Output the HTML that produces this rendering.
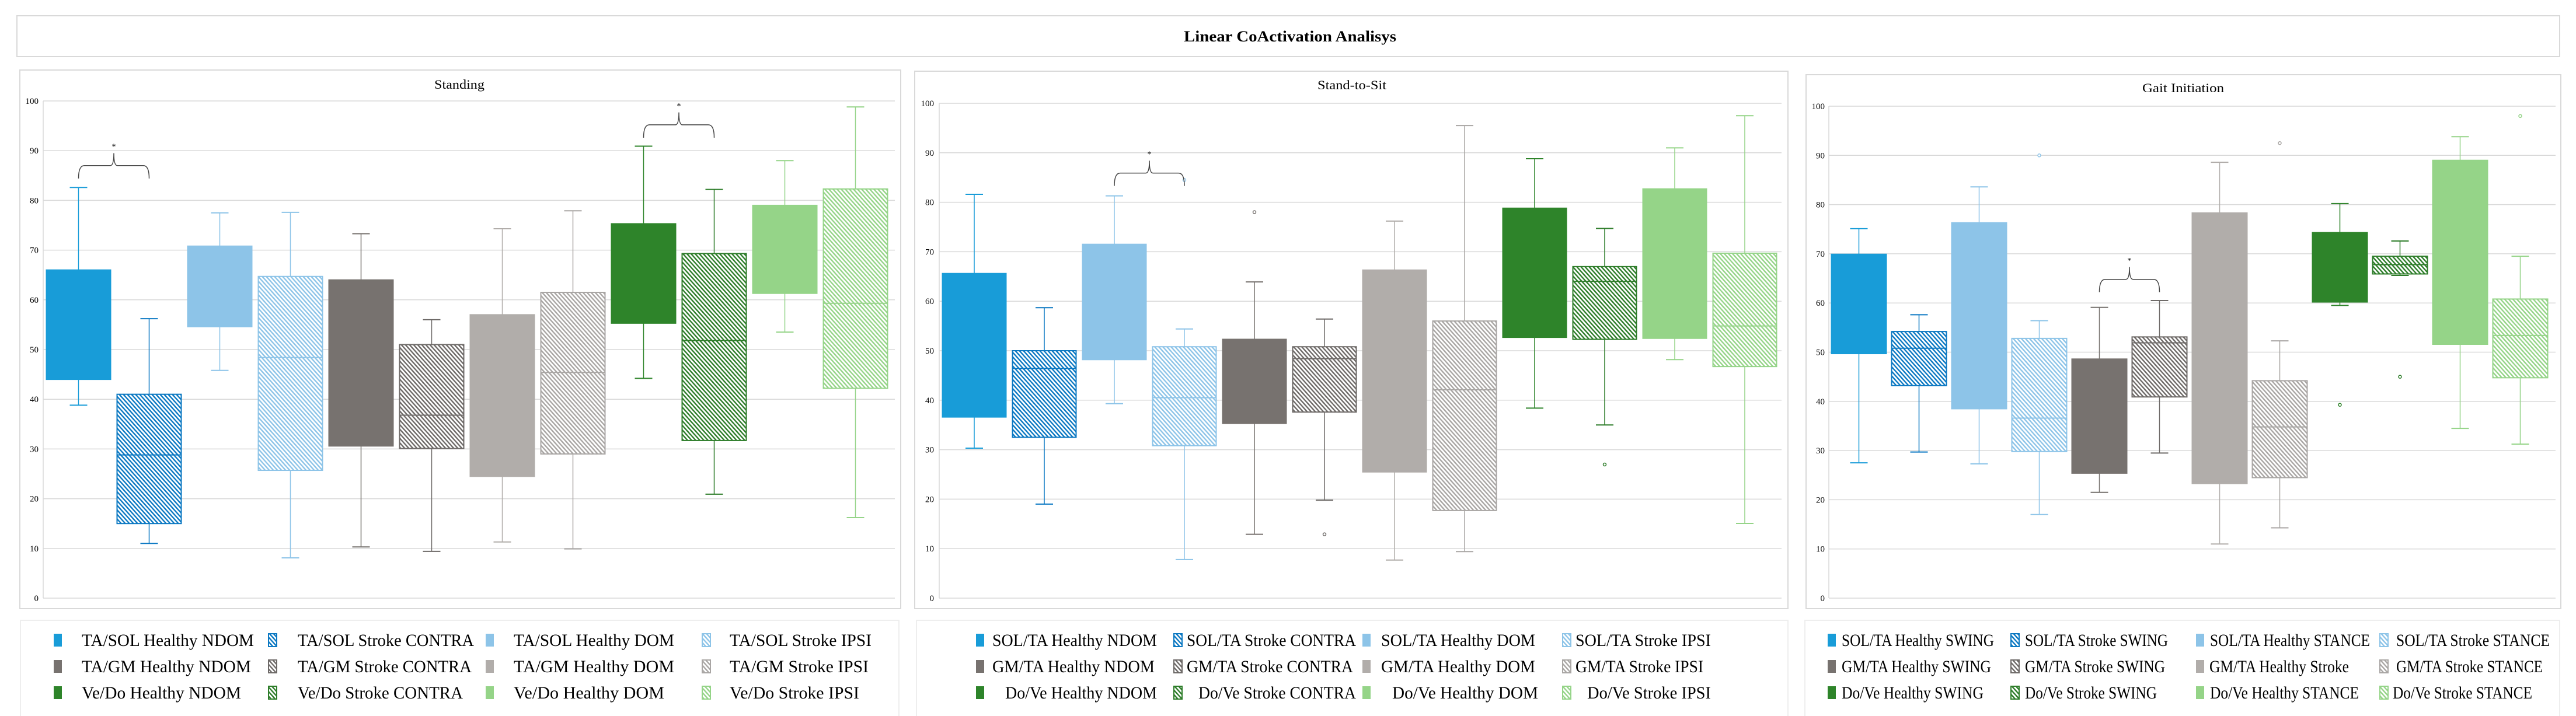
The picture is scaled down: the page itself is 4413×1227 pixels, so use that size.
<!DOCTYPE html>
<html><head><meta charset="utf-8"><style>
html,body{margin:0;padding:0;background:#fff;}
svg{display:block;}
</style></head><body>
<svg id="chart" xmlns="http://www.w3.org/2000/svg" width="4413" height="1227" viewBox="0 0 4413 1227" font-family="'Liberation Serif', serif">
<defs id="defs"></defs>
<rect x="29" y="27" width="4356" height="70" fill="#fff" stroke="#d9d9d9" stroke-width="2"/>
<text x="2210" y="71" text-anchor="middle" font-size="26" font-weight="bold" textLength="364" lengthAdjust="spacingAndGlyphs">Linear CoActivation Analisys</text>
<g id="root"></g>
</svg>
<script>
// ---- data (Standing) ----
const p1Labels=["TA/SOL Healthy NDOM","TA/SOL Stroke CONTRA","TA/SOL Healthy DOM","TA/SOL Stroke  IPSI","TA/GM Healthy NDOM","TA/GM Stroke CONTRA","TA/GM Healthy  DOM","TA/GM Stroke  IPSI","Ve/Do Healthy NDOM","Ve/Do Stroke CONTRA","Ve/Do Healthy  DOM","Ve/Do Stroke  IPSI"];
const p1Min=[38.8,11,45.8,8.1,10.3,9.4,11.3,9.9,44.2,20.9,53.5,16.2];
const p1Q1=[44,15,54.6,25.7,30.6,30.1,24.5,29,55.3,31.7,61.3,42.2];
const p1Med=[48.3,28.8,54.8,48.4,30.8,36.8,24.7,45.4,55.5,51.8,61.5,59.3];
const p1Q3=[66,41,70.8,64.7,64,51,57,61.5,75.3,69.3,79,82.3];
const p1Max=[82.6,56.2,77.5,77.6,73.3,56,74.3,77.9,90.9,82.2,88,98.8];
const p1Out=[[],[],[],[],[],[],[],[],[],[],[],[]];
const p1Brackets=[[0,1,87],[8,9,95.2]];
// ---- data (Stand-to-Sit) ----
const p2Labels=["SOL/TA Healthy NDOM","SOL/TA Stroke CONTRA","SOL/TA Healthy DOM","SOL/TA Stroke  IPSI","GM/TA Healthy NDOM","GM/TA Stroke CONTRA","GM/TA Healthy  DOM","GM/TA Stroke IPSI","Do/Ve Healthy NDOM","Do/Ve Stroke CONTRA","Do/Ve Healthy  DOM","Do/Ve Stroke  IPSI"];
const p2Min=[30.3,19,39.3,7.8,12.9,19.8,7.7,9.4,38.4,35,48.2,15.1];
const p2Q1=[36.6,32.5,48.2,30.8,35.3,37.6,25.5,17.7,52.7,52.3,52.5,46.8];
const p2Med=[47.5,46.4,48.4,40.5,35.5,48.4,25.7,42.1,52.9,64,52.7,55];
const p2Q3=[65.6,50,71.5,50.8,52.3,50.8,66.3,56,78.8,67,82.7,69.7];
const p2Max=[81.6,58.7,81.3,54.4,63.9,56.4,76.2,95.5,88.8,74.7,91,97.5];
const p2Out=[[],[],[],[84.5],[78],[12.9],[],[],[],[27],[],[]];
const p2Brackets=[[2,3,85.9]];
// ---- data (Gait Initiation) ----
const p3Labels=["SOL/TA Healthy SWING","SOL/TA Stroke SWING","SOL/TA Healthy STANCE","SOL/TA Stroke  STANCE","GM/TA Healthy SWING","GM/TA Stroke SWING","GM/TA Healthy Stroke","GM/TA Stroke STANCE","Do/Ve Healthy SWING","Do/Ve Stroke SWING","Do/Ve Healthy STANCE","Do/Ve Stroke STANCE"];
const p3Min=[27.5,29.7,27.3,17,21.5,29.5,11,14.3,59.5,65.6,34.5,31.3];
const p3Q1=[49.7,43.2,38.5,29.8,25.4,40.9,23.3,24.5,60.2,65.9,51.6,44.8];
const p3Med=[54,50.8,38.7,36.6,25.6,51.9,23.5,34.8,60.4,67.8,51.8,53.4];
const p3Q3=[69.9,54.2,76.3,52.8,48.6,53.1,78.3,44.2,74.3,69.5,89,60.8];
const p3Max=[75.1,57.6,83.6,56.4,59.1,60.5,88.6,52.3,80.2,72.6,93.8,69.5];
const p3Out=[[],[],[],[90],[],[],[],[92.5],[39.3],[45],[],[98]];
const p3Brackets=[[4,5,64.8]];
const yTicks=[0,10,20,30,40,50,60,70,80,90,100];

const NS="http://www.w3.org/2000/svg";
const root=document.getElementById('root');
const defs=document.getElementById('defs');
const fills=["#189CD8","#0B78C2","#8DC4E8","#8DC4E8","#77726F","#6E6A68","#B1ADAA","#A9A6A4","#2E842A","#2E7D2A","#95D488","#95D488"];
const hatched=[false,true,false,true,false,true,false,true,false,true,false,true];
function mk(tag,attrs,parent){const e=document.createElementNS(NS,tag);for(const k in attrs)e.setAttribute(k,attrs[k]);(parent||root).appendChild(e);return e;}
// hatch patterns
fills.forEach((c,i)=>{if(!hatched[i])return;
  const p=mk('pattern',{id:'h'+i,patternUnits:'userSpaceOnUse',width:5.2,height:10,patternTransform:'rotate(-42)'},defs);
  mk('rect',{x:0,y:0,width:5.2,height:10,fill:'#fff'},p);
  mk('rect',{x:0,y:0,width:2.4,height:10,fill:c},p);
});
function paint(i){return hatched[i]?'url(#h'+i+')':fills[i];}

const panels=[
 {name:'standing',title:'Standing',tx:787,ty:152,tw:86,frame:[34,120,1509,923],left:74,right:1533,step:121,bw:110,yT:173,y0:1025,labX:66,
  min:p1Min,q1:p1Q1,med:p1Med,q3:p1Q3,max:p1Max,out:p1Out,br:p1Brackets,labels:p1Labels,
  leg:{box:[35,1063,1505,170],mx:[92,460,832,1203],tx:[[140,435,510,812,880,1155,1250,1493],[140,430,510,808,880,1155,1250,1488],[140,413,510,793,880,1138,1250,1472]]}},
 {name:'stand-to-sit',title:'Stand-to-Sit',tx:2316,ty:153,tw:118,frame:[1567,122,1496,921],left:1609,right:3052,step:120,bw:109,yT:177,y0:1025,labX:1600,
  min:p2Min,q1:p2Q1,med:p2Med,q3:p2Q3,max:p2Max,out:p2Out,br:p2Brackets,labels:p2Labels,
  leg:{box:[1570,1063,1493,170],mx:[1672,2011,2334,2677],tx:[[1700,1982,2033,2323,2366,2630,2699,2931],[1700,1978,2033,2318,2366,2630,2699,2918],[1722,1982,2053,2323,2385,2635,2719,2931]]}},
 {name:'gait-initiation',title:'Gait Initiation',tx:3740,ty:158,tw:140,frame:[3094,128,1293,915],left:3133,right:4378,step:103,bw:94,yT:182,y0:1025,labX:3126,
  min:p3Min,q1:p3Q1,med:p3Med,q3:p3Q3,max:p3Max,out:p3Out,br:p3Brackets,labels:p3Labels,
  leg:{box:[3092,1063,1293,170],mx:[3131,3445,3762,4077],tx:[[3155,3416,3469,3714,3786,4060,4105,4368],[3155,3411,3469,3709,3785,4024,4105,4356],[3155,3398,3469,3695,3786,4041,4099,4338]]}}
];

panels.forEach(P=>{
  const g=mk('g',{});
  
  
  const fr=mk('rect',{x:P.frame[0],y:P.frame[1],width:P.frame[2],height:P.frame[3],fill:'#fff',stroke:'#d9d9d9','stroke-width':2},g);
  
  
  const t=mk('text',{x:P.tx,y:P.ty,'text-anchor':'middle','font-size':22,textLength:P.tw,lengthAdjust:'spacingAndGlyphs'},g);
  t.textContent=P.title;
  
  
  const Y=v=>P.y0-(v/100)*(P.y0-P.yT);
  const X=i=>P.left+P.step*(i+0.5);
  yTicks.forEach(v=>{
    const l=mk('line',{x1:P.left,x2:P.right,y1:Y(v),y2:Y(v),stroke:'#d9d9d9','stroke-width':1.5},g);
    
    
    const tl=mk('text',{x:P.labX,y:Y(v)+5,'text-anchor':'end','font-size':15},g);
    tl.textContent=v;
    
    
  });
  const ax=mk('line',{x1:P.left,x2:P.left,y1:P.yT,y2:P.y0,stroke:'#d9d9d9','stroke-width':1.5},g);
  
  
  P.min.forEach((_,i)=>{
    const bg=mk('g',{},g);
    
    
    const c=fills[i],cx=X(i),hw=P.bw/2;
    mk('line',{x1:cx,x2:cx,y1:Y(P.max[i]),y2:Y(P.q3[i]),stroke:c,'stroke-width':1.5},bg);
    mk('line',{x1:cx,x2:cx,y1:Y(P.q1[i]),y2:Y(P.min[i]),stroke:c,'stroke-width':1.5},bg);
    mk('line',{x1:cx-15,x2:cx+15,y1:Y(P.max[i]),y2:Y(P.max[i]),stroke:c,'stroke-width':2},bg);
    mk('line',{x1:cx-15,x2:cx+15,y1:Y(P.min[i]),y2:Y(P.min[i]),stroke:c,'stroke-width':2},bg);
    mk('rect',{x:cx-hw,y:Y(P.q3[i]),width:P.bw,height:Y(P.q1[i])-Y(P.q3[i]),fill:paint(i),stroke:c,'stroke-width':2},bg);
    mk('line',{x1:cx-hw,x2:cx+hw,y1:Y(P.med[i]),y2:Y(P.med[i]),stroke:c,'stroke-width':2},bg);
    P.out[i].forEach(v=>{mk('circle',{cx:cx,cy:Y(v),r:2.5,fill:'#fff',stroke:c,'stroke-width':1.5},bg);});
  });
  P.br.forEach(b=>{
    const x1=X(b[0]),x2=X(b[1]),yb=Y(b[2]),yl=Y(b[2]-2.6),yp=Y(b[2]+2.5),cx=(x1+x2)/2;
    const pth=mk('path',{d:`M${x1} ${yl} Q${x1} ${yb} ${x1+10} ${yb} L${cx-6} ${yb} Q${cx} ${yb} ${cx} ${yp} Q${cx} ${yb} ${cx+6} ${yb} L${x2-10} ${yb} Q${x2} ${yb} ${x2} ${yl}`,fill:'none',stroke:'#444','stroke-width':1.5},g);
    
    
    const st=mk('text',{x:cx,y:Y(b[2]+4)+6,'text-anchor':'middle','font-size':14},g);
    st.textContent='*';
    
    
  });
  // legend
  const L=P.leg;
  const lg=mk('g',{});
  
  
  mk('rect',{x:L.box[0],y:L.box[1],width:L.box[2],height:L.box[3],fill:'#fff',stroke:'#eeeeee','stroke-width':2},lg);
  const rowsY=[1097,1142,1187];
  P.labels.forEach((lab,i)=>{
    const r=Math.floor(i/4),col=i%4,cy=rowsY[r];
    const eg=mk('g',{},lg);
    
    
    mk('rect',{x:L.mx[col],y:cy-11,width:14,height:22,fill:paint(i),stroke:fills[i],'stroke-width':hatched[i]?2:0},eg);
    const x0=L.tx[r][col*2],x1=L.tx[r][col*2+1];
    const tt=mk('text',{x:x0,y:cy+10,'font-size':30,textLength:x1-x0,lengthAdjust:'spacingAndGlyphs','xml:space':'preserve'},eg);
    tt.textContent=lab;
  });
});
</script>
</body></html>
